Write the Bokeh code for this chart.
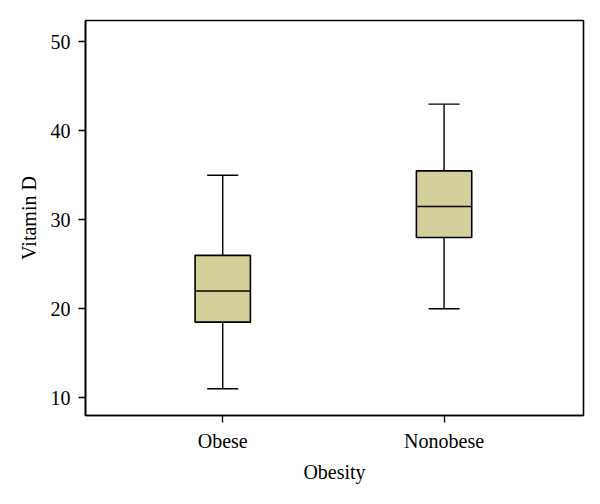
from bokeh.plotting import figure
from bokeh.models import Range1d, FixedTicker, ColumnDataSource
from bokeh.embed import file_html
from bokeh.resources import INLINE

categories = ["Obese", "Nonobese"]
lower_whisker = [11.0, 20.0]
q1 = [18.5, 28.0]
median = [22.0, 31.5]
q3 = [26.0, 35.5]
upper_whisker = [35.0, 43.0]
y_ticks = [10, 20, 30, 40, 50]

xpos = [i + 1 for i in range(len(categories))]
box_w = 0.25
cap_w = 0.14

src = ColumnDataSource(dict(
    x=xpos, lw=lower_whisker, q1=q1, med=median, q3=q3, uw=upper_whisker,
    capl=[x - cap_w / 2 for x in xpos], capr=[x + cap_w / 2 for x in xpos],
    boxl=[x - box_w / 2 for x in xpos], boxr=[x + box_w / 2 for x in xpos],
))

p = figure(width=592, height=496, output_backend="svg", toolbar_location=None,
           x_range=Range1d(0.38, 2.63), y_range=Range1d(8.0, 52.4),
           min_border_left=85, min_border_right=9, min_border_top=20, min_border_bottom=81)

FONT = "Liberation Serif"
LW = 1.4

# whiskers
p.segment(x0="x", y0="lw", x1="x", y1="q1", source=src, line_color="black", line_width=LW)
p.segment(x0="x", y0="q3", x1="x", y1="uw", source=src, line_color="black", line_width=LW)
# caps
p.segment(x0="capl", y0="lw", x1="capr", y1="lw", source=src, line_color="black", line_width=LW)
p.segment(x0="capl", y0="uw", x1="capr", y1="uw", source=src, line_color="black", line_width=LW)
# boxes
p.quad(left="boxl", right="boxr", bottom="q1", top="q3", source=src,
       fill_color="#d3cf9a", line_color="black", line_width=1.6)
# medians
p.segment(x0="boxl", y0="med", x1="boxr", y1="med", source=src, line_color="black", line_width=LW)

p.xgrid.visible = False
p.ygrid.visible = False
p.outline_line_color = "black"
p.outline_line_width = 1.6
p.background_fill_color = "white"
p.border_fill_color = "white"

p.xaxis.ticker = FixedTicker(ticks=xpos)
p.xaxis.major_label_overrides = {x: c for x, c in zip(xpos, categories)}
p.yaxis.ticker = FixedTicker(ticks=y_ticks)
p.xaxis.axis_label = "Obesity"
p.yaxis.axis_label = "Vitamin D"

for ax in (p.xaxis, p.yaxis):
    ax.axis_line_color = "black"
    ax.axis_line_width = 1.6
    ax.major_tick_line_color = "black"
    ax.major_tick_line_width = 1.4
    ax.major_tick_out = 7
    ax.major_tick_in = 0
    ax.minor_tick_line_color = None
    ax.major_label_text_font = FONT
    ax.major_label_text_font_size = "20px"
    ax.major_label_text_color = "black"
    ax.axis_label_text_font = FONT
    ax.axis_label_text_font_size = "20px"
    ax.axis_label_text_font_style = "normal"
    ax.axis_label_text_color = "black"

p.xaxis.major_label_standoff = 7
p.yaxis.major_label_standoff = 8
p.xaxis.axis_label_standoff = 6
p.yaxis.axis_label_standoff = 8

open("out.html", "w").write(file_html(p, INLINE))
